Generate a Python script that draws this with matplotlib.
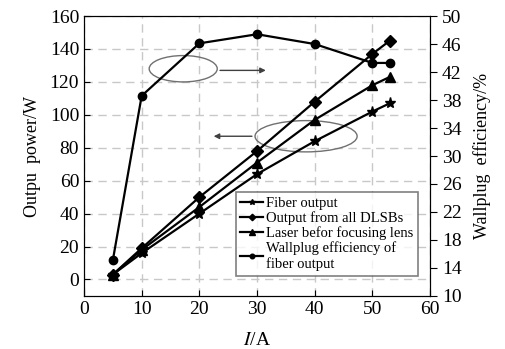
import matplotlib.pyplot as plt
from matplotlib.patches import Ellipse

plt.rcParams['font.family'] = ['Liberation Serif', 'DejaVu Serif']
plt.rcParams['mathtext.fontset'] = 'stix'

current = [5, 10, 20, 30, 40, 50, 53]
fiber_output = [3, 16, 40, 64, 84, 102, 107]
dlsb_output = [3, 19, 50, 78, 108, 137, 145]
laser_before_lens = [3, 18, 44, 71, 97, 118, 123]
wallplug_eff = [15.1, 38.6, 46.1, 47.4, 46.0, 43.3, 43.3]

fig = plt.figure(figsize=(5.06, 3.49), dpi=100)
ax = fig.add_axes([0.166, 0.152, 0.684, 0.802])
ax2 = ax.twinx()

l1, = ax.plot(current, fiber_output, '-*', color='black', lw=1.6, ms=8)
l2, = ax.plot(current, dlsb_output, '-D', color='black', lw=1.6, ms=6)
l3, = ax.plot(current, laser_before_lens, '-^', color='black', lw=1.6, ms=7)
l4, = ax2.plot(current, wallplug_eff, '-o', color='black', lw=1.6, ms=6)

ax.set_xlim(0, 60)
ax.set_ylim(-10, 160)
ax2.set_ylim(10, 50)
ax.set_xticks(range(0, 61, 10))
ax.set_yticks(range(0, 161, 20))
ax2.set_yticks(range(10, 51, 4))

ax.grid(True, ls=(0, (6, 4)), color='#c8c8c8', lw=1)
ax.set_axisbelow(True)
ax.tick_params(direction='in', labelsize=14, length=4)
ax2.tick_params(direction='out', labelsize=14, length=5)

ax.set_xlabel('$I$/A', fontsize=14, labelpad=10)
ax.set_ylabel('Outpu  power/W', fontsize=13, labelpad=6)
ax2.set_ylabel('Wallplug  efficiency/%', fontsize=13, labelpad=8)

# annotation ellipses and arrows
ax.add_patch(Ellipse((17.2, 128), 11.8, 16, fill=False, ec='#707070', lw=1))
ax.annotate('', xy=(32, 127), xytext=(23.1, 127),
            arrowprops=dict(arrowstyle='-|>', color='#404040', lw=1, mutation_scale=8))
ax.add_patch(Ellipse((38.5, 87), 17.7, 19, fill=False, ec='#707070', lw=1))
ax.annotate('', xy=(22, 87), xytext=(29.6, 87),
            arrowprops=dict(arrowstyle='-|>', color='#404040', lw=1, mutation_scale=8))

leg = ax.legend([l1, l2, l3, l4],
                ['Fiber output', 'Output from all DLSBs', 'Laser befor focusing lens',
                 'Wallplug efficiency of\nfiber output'],
                loc='lower right', bbox_to_anchor=(0.986, 0.046), fontsize=10.5,
                handlelength=1.6, handletextpad=0.2, labelspacing=0.1,
                borderpad=0.3, fancybox=False, edgecolor='#606060', markerscale=0.55)
leg.get_frame().set_linewidth(1.2)
leg.set_zorder(5)

fig.savefig('out.png', dpi=100)
